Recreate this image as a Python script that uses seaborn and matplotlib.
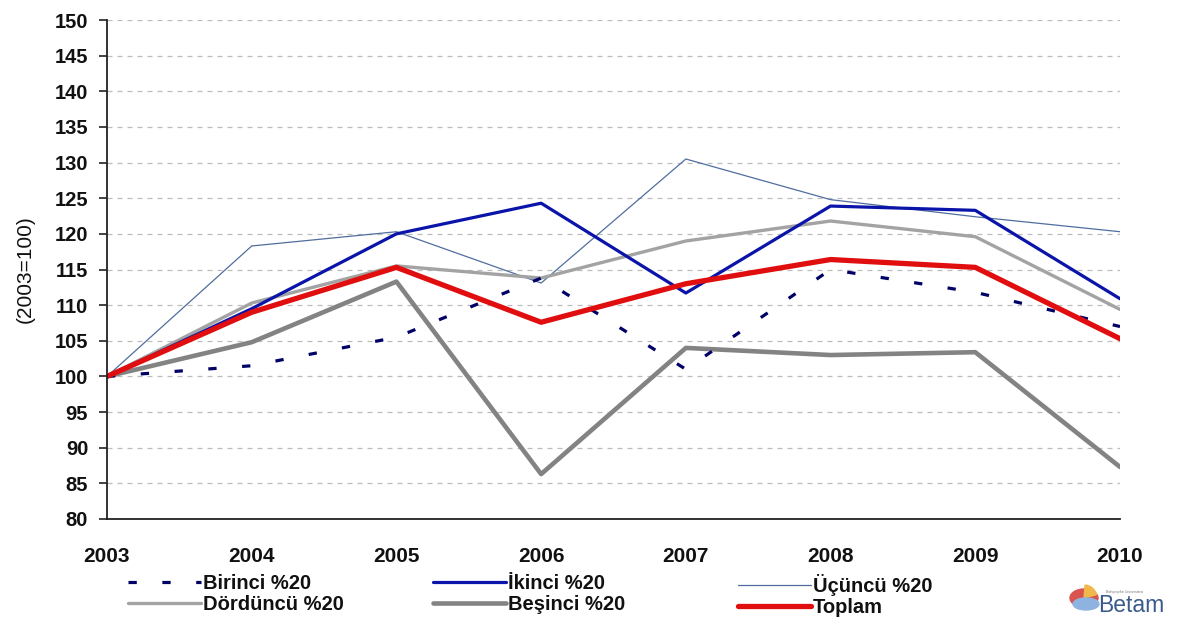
import matplotlib
matplotlib.use("Agg")
import matplotlib.pyplot as plt
from matplotlib.patches import Ellipse, Wedge
import seaborn as sns
import pandas as pd

years = [2003, 2004, 2005, 2006, 2007, 2008, 2009, 2010]
birinci = [100, 101.5, 105.5, 113.8, 101.0, 115.0, 111.8, 107.0]
ikinci = [100, 109.5, 120.0, 124.3, 111.7, 123.9, 123.3, 110.9]
ucuncu = [100, 118.3, 120.3, 113.1, 130.5, 124.8, 122.4, 120.3]
dorduncu = [100, 110.3, 115.5, 113.8, 119.0, 121.8, 119.6, 109.4]
besinci = [100, 104.8, 113.3, 86.3, 104.0, 103.0, 103.4, 87.3]
toplam = [100, 109.0, 115.3, 107.6, 113.0, 116.4, 115.3, 105.3]

names = ["Birinci %20", "İkinci %20", "Üçüncü %20",
         "Dördüncü %20", "Beşinci %20", "Toplam"]
values = [birinci, ikinci, ucuncu, dorduncu, besinci, toplam]

df = pd.DataFrame({
    "Yıl": years * len(names),
    "Endeks": [v for series in values for v in series],
    "Grup": [n for n in names for _ in years],
})

sns.set_theme(style="white")
plt.rcParams["font.family"] = ["Liberation Sans", "DejaVu Sans"]

styles = {
    "Birinci %20": dict(color="#000066", lw=2.3, ls=(0, (2.6, 8.0))),
    "İkinci %20": dict(color="#0A14A8", lw=2.3, ls="-"),
    "Üçüncü %20": dict(color="#4F6E9E", lw=0.9, ls="-"),
    "Dördüncü %20": dict(color="#A3A3A3", lw=2.4, ls="-"),
    "Beşinci %20": dict(color="#838383", lw=3.3, ls="-"),
    "Toplam": dict(color="#E00E0E", lw=3.8, ls="-"),
}

fig = plt.figure(figsize=(11.77, 6.24), dpi=100)
ax = fig.add_axes([107 / 1177, 1 - 519 / 624, (1120 - 107) / 1177, (519 - 20) / 624])

draw_order = ["Üçüncü %20", "Dördüncü %20", "Beşinci %20", "Birinci %20", "İkinci %20", "Toplam"]
handles = {}
for name in draw_order:
    st = styles[name]
    sub = df[df["Grup"] == name]
    sns.lineplot(data=sub, x="Yıl", y="Endeks", ax=ax, color=st["color"],
                 linewidth=st["lw"], linestyle=st["ls"], label=name, legend=False)
    handles[name] = ax.lines[-1]

ax.set_xlim(2003, 2010)
ax.set_ylim(80, 150)
ax.set_yticks(range(80, 151, 5))
ax.set_xticks(years)
ax.set_xlabel("")
ax.set_ylabel("(2003=100)", fontsize=15, labelpad=14, color="#111111")

ax.yaxis.grid(True, color="#BDBDBD", linestyle=(0, (4, 4)), linewidth=0.9)
ax.xaxis.grid(False)
ax.set_axisbelow(True)

for side in ["top", "right"]:
    ax.spines[side].set_visible(False)
for side in ["left", "bottom"]:
    ax.spines[side].set_color("#222222")
    ax.spines[side].set_linewidth(1.3)

ax.tick_params(axis="y", which="major", left=True, length=5.5, width=1.2,
               color="#222222", labelsize=14.5, pad=8)
ax.tick_params(axis="x", which="major", bottom=False, labelsize=15, pad=14)
for lab in ax.get_xticklabels() + ax.get_yticklabels():
    lab.set_fontweight("bold")
    lab.set_color("#111111")

# Legend: three columns of two entries each
legend_columns = [["Birinci %20", "Dördüncü %20"],
                  ["İkinci %20", "Beşinci %20"],
                  ["Üçüncü %20", "Toplam"]]
column_x = [128, 433, 738]
for col_names, x0 in zip(legend_columns, column_x):
    leg = fig.legend([handles[n] for n in col_names], col_names,
                     loc="upper left", bbox_to_anchor=(x0 / 1177, 1 - 574 / 624),
                     frameon=False, handlelength=3.6, handletextpad=0.1,
                     labelspacing=0.1, borderpad=0.0, borderaxespad=0.0,
                     prop={"weight": "bold", "size": 14.5})
    for t in leg.get_texts():
        t.set_color("#111111")

# Betam logo
logo = fig.add_axes([1062 / 1177, 1 - 620 / 624, 110 / 1177, 42 / 624])
logo.set_xlim(0, 110)
logo.set_ylim(0, 42)
logo.axis("off")
logo.add_patch(Ellipse((22, 22), 28, 18, color="#D9534F"))
logo.add_patch(Wedge((22, 22), 13, 15, 85, color="#F0B84A"))
logo.add_patch(Ellipse((24, 16), 26, 12, color="#8FB3E0"))
logo.text(36, 3, "Betam", fontsize=16.5, color="#3A5A8C", va="bottom", ha="left")
logo.text(44, 26, "Bahçeşehir Üniversitesi", fontsize=2.5, color="#777777", va="bottom")

fig.savefig("out.png", dpi=100)
